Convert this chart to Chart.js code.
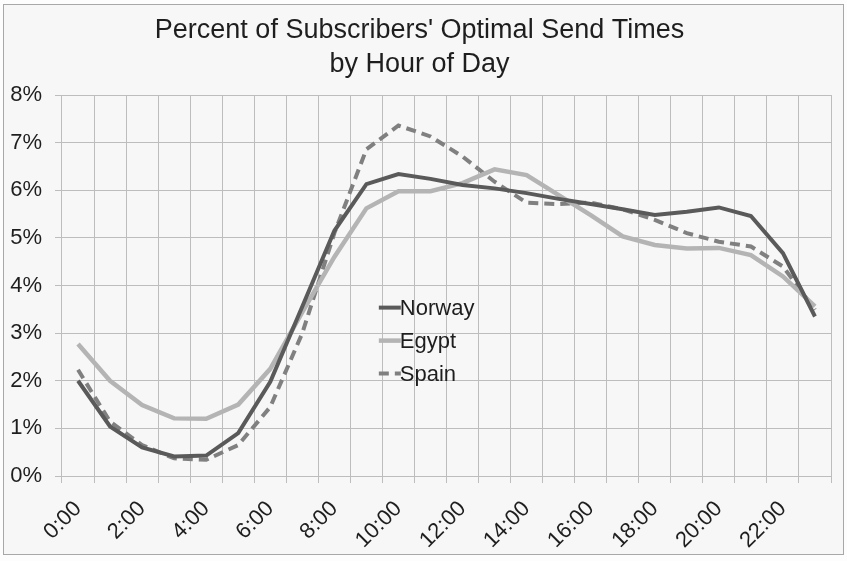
<!DOCTYPE html>
<html>
<head>
<meta charset="utf-8">
<script src="https://cdn.jsdelivr.net/npm/chart.js@4.4.1/dist/chart.umd.min.js"></script>
<style>
  html, body { margin: 0; padding: 0; background: #ffffff; }
  #wrap { position: relative; width: 847px; height: 561px; }
</style>
</head>
<body>
<div id="wrap"><canvas id="myChart" width="847" height="561"></canvas></div>
<script>
// hours of the day
var hours = ["0:00", "1:00", "2:00", "3:00", "4:00", "5:00", "6:00", "7:00", "8:00", "9:00", "10:00", "11:00",
             "12:00", "13:00", "14:00", "15:00", "16:00", "17:00", "18:00", "19:00", "20:00", "21:00", "22:00", "23:00"];

// percent of subscribers
var norway = [2.0, 1.04, 0.6, 0.41, 0.43, 0.9, 1.98, 3.56, 5.15, 6.13, 6.34, 6.24,
              6.11, 6.04, 5.94, 5.82, 5.71, 5.6, 5.48, 5.55, 5.64, 5.46, 4.68, 3.35];
var egypt = [2.77, 2.0, 1.49, 1.21, 1.2, 1.5, 2.25, 3.44, 4.6, 5.62, 5.98, 5.98,
             6.15, 6.44, 6.32, 5.9, 5.48, 5.03, 4.85, 4.78, 4.79, 4.64, 4.19, 3.56];
var spain = [2.23, 1.14, 0.65, 0.37, 0.34, 0.65, 1.45, 3.0, 5.1, 6.86, 7.36, 7.13,
             6.71, 6.18, 5.74, 5.71, 5.74, 5.6, 5.38, 5.1, 4.92, 4.82, 4.4, 3.49];

var titleLines = ["Percent of Subscribers' Optimal Send Times", "by Hour of Day"];

var FONT = "'Liberation Sans', Arial, Helvetica, sans-serif";
var TEXT = "#1e1e1e";
var GRID = "#bdbdbd";

// background + frame
var framePlugin = {
    id: 'frame',
    beforeDraw: function (chart) {
        var c = chart.ctx;
        c.save();
        c.fillStyle = "#fdfdfd";
        c.fillRect(0, 0, chart.width, chart.height);
        c.fillStyle = "#f7f7f7";
        c.fillRect(3, 4, chart.width - 6, chart.height - 10);
        c.strokeStyle = "#a8a8a8";
        c.lineWidth = 1;
        c.strokeRect(3.5, 4.5, chart.width - 7, chart.height - 11);
        c.restore();
    }
};

// legend sitting inside the plot
var innerLegend = {
    id: 'innerLegend',
    afterDatasetsDraw: function (chart) {
        var c = chart.ctx, a = chart.chartArea;
        var x0 = a.left + (a.right - a.left) * 0.412;
        var y0 = a.top + (a.bottom - a.top) * 0.558;
        var step = 33;
        c.save();
        c.font = "22px " + FONT;
        c.textBaseline = "middle";
        c.textAlign = "left";
        chart.data.datasets.forEach(function (ds, i) {
            var y = y0 + i * step;
            c.strokeStyle = ds.borderColor;
            c.lineWidth = ds.borderWidth;
            c.setLineDash(ds.borderDash || []);
            c.beginPath();
            c.moveTo(x0, y);
            c.lineTo(x0 + 22, y);
            c.stroke();
            c.setLineDash([]);
            c.fillStyle = TEXT;
            c.fillText(ds.label, x0 + 21, y + 1);
        });
        c.restore();
    }
};

var ctx = document.getElementById("myChart");
var myChart = new Chart(ctx, {
    type: 'line',
    data: {
        labels: hours,
        datasets: [
            { label: "Norway", data: norway, borderColor: "#5a5a5a", borderWidth: 4, pointRadius: 0, tension: 0 },
            { label: "Egypt", data: egypt, borderColor: "#b4b4b4", borderWidth: 4.5, pointRadius: 0, tension: 0 },
            { label: "Spain", data: spain, borderColor: "#808080", borderWidth: 4, borderDash: [10, 6], pointRadius: 0, tension: 0 }
        ]
    },
    options: {
        responsive: false,
        animation: false,
        layout: { padding: { left: 8, right: 16, top: 0, bottom: 6 } },
        plugins: {
            legend: { display: false },
            tooltip: { enabled: false },
            title: {
                display: true,
                text: titleLines,
                color: TEXT,
                font: { family: FONT, size: 27, weight: 'normal', lineHeight: 1.26 },
                padding: { top: 14, bottom: 13 }
            }
        },
        scales: {
            x: {
                offset: true,
                grid: { offset: true, color: GRID, lineWidth: 1, tickLength: 7, drawTicks: true },
                border: { display: false },
                ticks: {
                    autoSkip: false,
                    maxRotation: 45,
                    minRotation: 45,
                    padding: 13,
                    color: TEXT,
                    font: { family: FONT, size: 22 },
                    callback: function (v, i) { return i % 2 === 0 ? hours[i] : ''; }
                },
                afterFit: function (s) { s.height = 79; }
            },
            y: {
                min: 0,
                max: 8,
                grid: { color: GRID, lineWidth: 1, tickLength: 7 },
                border: { display: false },
                ticks: {
                    stepSize: 1,
                    padding: 13,
                    color: TEXT,
                    font: { family: FONT, size: 22 },
                    callback: function (v) { return v + "%"; }
                },
                afterFit: function (s) { s.width = 54; }
            }
        }
    },
    plugins: [framePlugin, innerLegend]
});
</script>
</body>
</html>
